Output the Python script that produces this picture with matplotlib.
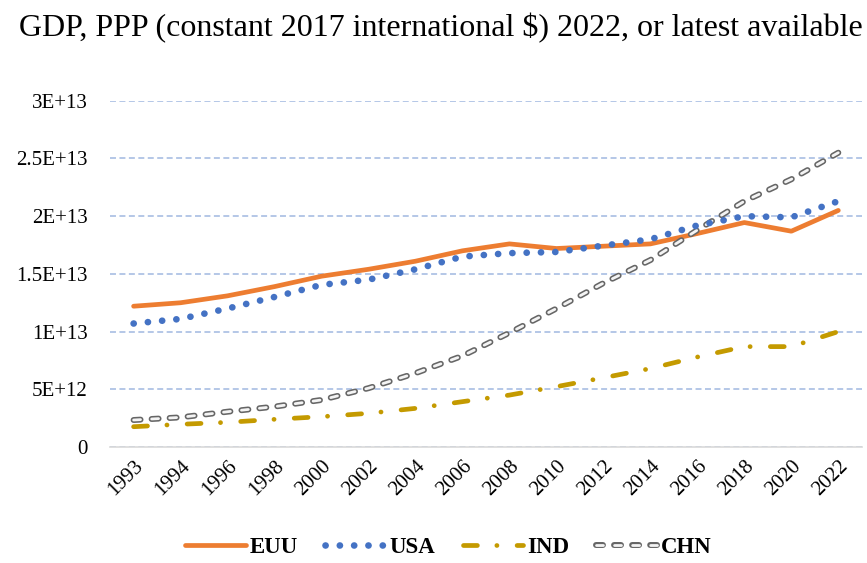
import numpy as np
import matplotlib
matplotlib.use('Agg')
import matplotlib.pyplot as plt
from matplotlib.legend_handler import HandlerTuple

years = ['1993', '1994', '1996', '1998', '2000', '2002', '2004', '2006',
         '2008', '2010', '2012', '2014', '2016', '2018', '2020', '2022']

# values in 1E+12 (constant 2017 international $)
euu = [12.2, 12.5, 13.1, 13.9, 14.8, 15.4, 16.1, 17.0,
       17.6, 17.2, 17.4, 17.6, 18.5, 19.45, 18.7, 20.5]
usa = [10.7, 11.1, 12.0, 13.0, 14.05, 14.5, 15.4, 16.5,
       16.8, 16.9, 17.45, 18.0, 19.2, 20.0, 19.9, 21.3]
ind = [1.76, 1.97, 2.14, 2.4, 2.63, 2.92, 3.35, 3.93,
       4.5, 5.23, 6.0, 6.8, 7.8, 8.7, 8.7, 10.0]
chn = [2.34, 2.57, 3.06, 3.5, 4.08, 5.1, 6.4, 7.9,
       9.9, 12.0, 14.2, 16.2, 18.8, 21.3, 23.2, 25.5]

ytick_vals = [0, 5e12, 1e13, 1.5e13, 2e13, 2.5e13, 3e13]
ytick_labels = ['0', '5E+12', '1E+13', '1.5E+13', '2E+13', '2.5E+13', '3E+13']

plt.rcParams['font.family'] = ['Liberation Serif', 'DejaVu Serif']
plt.rcParams['lines.scale_dashes'] = False

fig = plt.figure(figsize=(8.67, 5.63), dpi=100)
ax = fig.add_axes([0.127, 0.206, 0.867, 0.615])

x = np.arange(len(years))
scale = 1e12

ax.plot(x, np.array(euu) * scale, color='#ED7D31', lw=3.4,
        solid_capstyle='round', solid_joinstyle='round', label='EUU', zorder=3)
ax.plot(x, np.array(usa) * scale, color='#4472C4', lw=4.8,
        dashes=(0.1, 10.2), dash_capstyle='round', label='USA', zorder=4)
ax.plot(x, np.array(ind) * scale, color='#C49A00', lw=3.4,
        dashes=(10, 14, 0.1, 14.5), dash_capstyle='round', label='IND', zorder=3)
# hollow dashed look: dark outline + light core
chn_outer, = ax.plot(x, np.array(chn) * scale, color='#666666', lw=4.3,
                     dashes=(5, 8), dash_capstyle='round', zorder=3)
chn_inner, = ax.plot(x, np.array(chn) * scale, color='#F4F4F4', lw=2.0,
                     dashes=(5, 8), dash_capstyle='round', zorder=3)

ax.set_xlim(-0.5, len(years) - 0.5)
ax.set_ylim(0, 3e13)
ax.set_yticks(ytick_vals)
ax.set_yticklabels(ytick_labels)
ax.set_xticks(x)
ax.set_xticklabels(years, rotation=45, ha='right', rotation_mode='anchor')
ax.tick_params(axis='both', length=0, labelsize=15, colors='black')
ax.tick_params(axis='y', pad=16)
ax.tick_params(axis='x', pad=7)

ax.grid(axis='y', color='#B4C7E7', lw=1.4, linestyle=(0, (4.3, 2.5)), zorder=0)
for s in ['top', 'right', 'left']:
    ax.spines[s].set_visible(False)
ax.spines['bottom'].set_color('#D9D9D9')
ax.spines['bottom'].set_linewidth(1.2)

fig.text(0.508, 0.95, 'GDP, PPP (constant 2017 international $) 2022, or latest available',
         ha='center', va='center', fontsize=23)

h, l = ax.get_legend_handles_labels()
h.append((chn_outer, chn_inner))
l.append('CHN')
fig.legend(h, l, loc='center', bbox_to_anchor=(0.517, 0.027), ncol=4, frameon=False,
           prop={'weight': 'bold', 'size': 16.5}, handlelength=2.65, handletextpad=0.15,
           columnspacing=1.2, handler_map={tuple: HandlerTuple(ndivide=1, pad=0)})

fig.savefig('out.png', dpi=100)
plt.close(fig)
